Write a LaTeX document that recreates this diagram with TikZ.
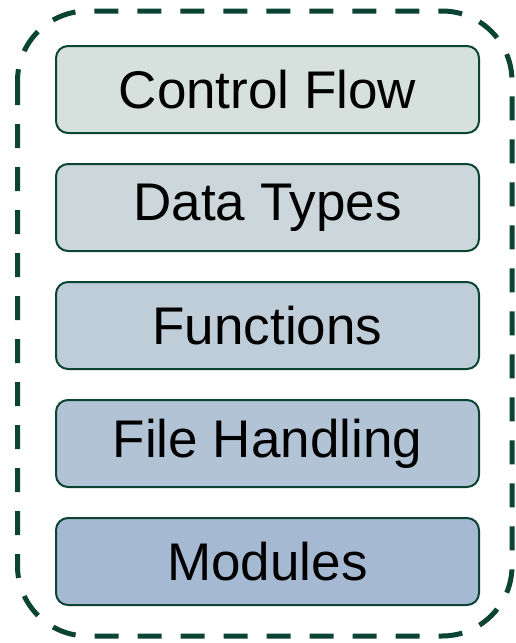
\documentclass[tikz,border=0pt]{standalone}
\usepackage{fontspec}
\setmainfont{Liberation Sans}
\usetikzlibrary{positioning}
\definecolor{frame}{HTML}{0C4433}
\definecolor{topicA}{HTML}{D6E0DD}
\definecolor{topicB}{HTML}{CBD7DB}
\definecolor{topicC}{HTML}{BFCDD8}
\definecolor{topicD}{HTML}{B2C3D6}
\definecolor{topicE}{HTML}{A6B9D3}
\tikzset{
	topic/.style={
		rectangle,
		rounded corners=12pt,
		minimum width=423pt,
		minimum height=87pt,
		text centered,
		draw=frame,
		line width=2pt,
		font=\fontsize{53}{60}\selectfont
	},
	border/.style={
		draw=frame,
		line width=5pt,
		dash pattern=on 24pt off 19pt,
		rounded corners=70pt
	}
}

\begin{document}
\begin{tikzpicture}[x=1pt, y=1pt, node distance=29pt]
				\useasboundingbox (0,0) rectangle (515,-643);
				\node (flow) [topic, fill=topicA] at (267.5,-89.5) {Control Flow};
				\node (types) [topic, fill=topicB, below=of flow] {Data Types};
				\node (funcs) [topic, fill=topicC, below=of types] {Functions};
				\node (files) [topic, fill=topicD, below=of funcs] {File Handling};
				\node (mods) [topic, fill=topicE, below=of files] {Modules};
				
				% dashed group round all topics
				\draw [border] (17.5,-11) rectangle (512,-636);
			\end{tikzpicture}
\end{document}
